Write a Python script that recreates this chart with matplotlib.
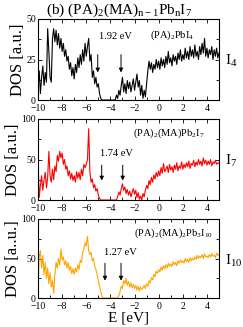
import numpy as np
import matplotlib
matplotlib.use("Agg")
import matplotlib.pyplot as plt
from matplotlib.ticker import MultipleLocator

plt.rcParams['font.family'] = ['Liberation Serif', 'DejaVu Serif']
plt.rcParams['mathtext.fontset'] = 'custom'
plt.rcParams['mathtext.rm'] = 'Liberation Serif'
plt.rcParams['mathtext.it'] = 'Liberation Serif:italic'

# Energy grid (eV), 0.1 eV sampling
energy = np.linspace(-10, 5, 151)

dos_I4 = [
    8, 18, 4, 14, 21, 9, 17, 11, 44, 30,
    14, 11, 38, 44, 36, 43, 34, 41, 32, 38,
    30, 35, 27, 31, 24, 27, 19, 23, 15, 20,
    13, 22, 17, 26, 20, 28, 22, 31, 24, 35,
    27, 33, 38, 24, 28, 14, 18, 10, 14, 8,
    10, 4, 1, 0, 0, 0, 0, 0, 0, 0,
    0, 0, 0, 0, 0, 3, 1, 6, 3, 9,
    14, 5, 10, 4, 12, 7, 11, 5, 9, 13,
    6, 11, 16, 8, 12, 3, 9, 1, 6, 2,
    10, 18, 24, 19, 23, 17, 22, 19, 25, 20,
    24, 19, 26, 21, 25, 20, 27, 22, 30, 23,
    26, 21, 28, 24, 27, 22, 29, 25, 31, 24,
    28, 25, 32, 26, 30, 25, 33, 27, 31, 26,
    34, 27, 30, 25, 33, 28, 35, 29, 38, 27,
    32, 26, 31, 28, 33, 25, 31, 27, 32, 26,
    29,
]

dos_I7 = [
    50, 3, 18, 30, 12, 25, 34, 15, 28, 60,
    30, 22, 38, 25, 42, 35, 55, 48, 60, 52,
    58, 44, 50, 38, 42, 30, 36, 26, 33, 24,
    30, 22, 35, 27, 34, 25, 38, 30, 44, 40,
    44, 50, 88, 35, 22, 26, 15, 19, 11, 14,
    6, 2, 0, 0, 0, 0, 0, 0, 0, 0,
    0, 0, 0, 0, 0, 0, 4, 10, 6, 14,
    20, 12, 16, 8, 13, 6, 11, 4, 9, 14,
    7, 12, 3, 9, 1, 5, 0, 8, 4, 12,
    18, 14, 24, 19, 28, 22, 31, 26, 34, 29,
    36, 30, 40, 33, 45, 35, 38, 42, 34, 44,
    37, 41, 34, 43, 38, 46, 36, 42, 39, 47,
    38, 44, 40, 46, 41, 48, 39, 45, 43, 49,
    41, 47, 43, 50, 44, 48, 42, 52, 45, 49,
    43, 48, 44, 50, 42, 47, 45, 49, 44, 46,
    45,
]

dos_I10 = [
    12, 52, 60, 38, 54, 30, 45, 25, 38, 18,
    32, 14, 22, 6, 30, 45, 38, 50, 42, 62,
    48, 52, 42, 47, 38, 45, 35, 40, 31, 37,
    30, 38, 33, 42, 36, 48, 45, 58, 62, 70,
    66, 78, 60, 55, 58, 47, 50, 40, 36, 30,
    22, 15, 8, 2, 0, 0, 0, 0, 0, 0,
    0, 0, 0, 0, 0, 0, 0, 3, 8, 15,
    12, 22, 18, 25, 16, 21, 14, 19, 13, 17,
    12, 16, 10, 15, 9, 14, 11, 13, 16, 12,
    18, 15, 22, 19, 26, 23, 30, 27, 34, 31,
    36, 33, 39, 35, 41, 37, 42, 38, 44, 40,
    43, 40, 46, 42, 45, 41, 47, 44, 48, 45,
    47, 44, 50, 46, 49, 45, 51, 47, 50, 48,
    52, 49, 54, 50, 53, 51, 55, 50, 56, 52,
    53, 51, 55, 52, 56, 53, 54, 51, 57, 54,
    55,
]

series = [dos_I4, dos_I7, dos_I10]
colors = ['black', '#ff0000', '#ffa500']
ylims = [50, 100, 100]
ymajor = [25, 50, 50]
ylabels = ['DOS [a.u.]', 'DOS [a.u.]', 'DOS [a..u.]']
compounds = [r'(PA)$_2$PbI$_4$', r'(PA)$_2$(MA)Pb$_2$I$_7$', r'(PA)$_2$(MA)$_2$Pb$_3$I$_{10}$']
right_labels = [r'I$_4$', r'I$_7$', r'I$_{10}$']
gaps = ['1.92 eV', '1.74 eV', '1.27 eV']
arrow_x = [(-5.05, -3.12), (-4.72, -2.98), (-4.45, -3.12)]
arrow_y = [(28, 17), (43, 24), (44, 22)]
gap_text_pos = [(-3.6, 39.5), (-3.5, 58), (-3.2, 58)]
comp_text_pos = [(1.15, 40), (0.85, 82), (1.2, 82)]

W, H = 243, 327
fig = plt.figure(figsize=(W / 100, H / 100), dpi=100)
left = 38 / W
width = 181 / W
tops = [19, 119, 219]
bottoms = [100, 200, 298]

for i in range(3):
    ax = fig.add_axes([left, 1 - bottoms[i] / H, width, (bottoms[i] - tops[i]) / H])
    ax.plot(energy, series[i], color=colors[i], lw=0.8)
    ax.set_xlim(-10, 5)
    ax.set_ylim(0, ylims[i])
    ax.xaxis.set_major_locator(MultipleLocator(2))
    ax.xaxis.set_minor_locator(MultipleLocator(1))
    ax.yaxis.set_major_locator(MultipleLocator(ymajor[i]))
    ax.yaxis.set_minor_locator(MultipleLocator(ymajor[i] / 2))
    ax.tick_params(which='both', direction='in', top=True, right=True,
                   labelsize=7, width=0.6)
    ax.tick_params(axis='y', pad=1.5)
    ax.tick_params(axis='x', pad=3)
    ax.tick_params(which='major', length=3)
    ax.tick_params(which='minor', length=2)
    for s in ax.spines.values():
        s.set_linewidth(0.8)
    ax.set_ylabel(ylabels[i], fontsize=12, labelpad=0)
    ax.text(*comp_text_pos[i], compounds[i], fontsize=7.5, ha='center', va='center')
    ax.text(*gap_text_pos[i], gaps[i], fontsize=7.5, ha='center', va='center')
    for xa in arrow_x[i]:
        ax.annotate('', xy=(xa, arrow_y[i][1]), xytext=(xa, arrow_y[i][0]),
                    arrowprops=dict(arrowstyle='-|>', color='black', lw=0.7,
                                    mutation_scale=6, shrinkA=0, shrinkB=0))
    fig.text(225 / W, 1 - (tops[i] + 42) / H, right_labels[i], fontsize=11,
             ha='left', va='center')
    if i == 2:
        ax.set_xlabel('E [eV]', fontsize=11, labelpad=0)

fig.text(119 / W, 1 - 10 / H, r'(b) (PA)$_2$(MA)$_{\mathrm{n-1}}$Pb$_\mathrm{n}$I$_7$',
         fontsize=11, ha='center', va='center')

fig.savefig('out.png', dpi=100)
